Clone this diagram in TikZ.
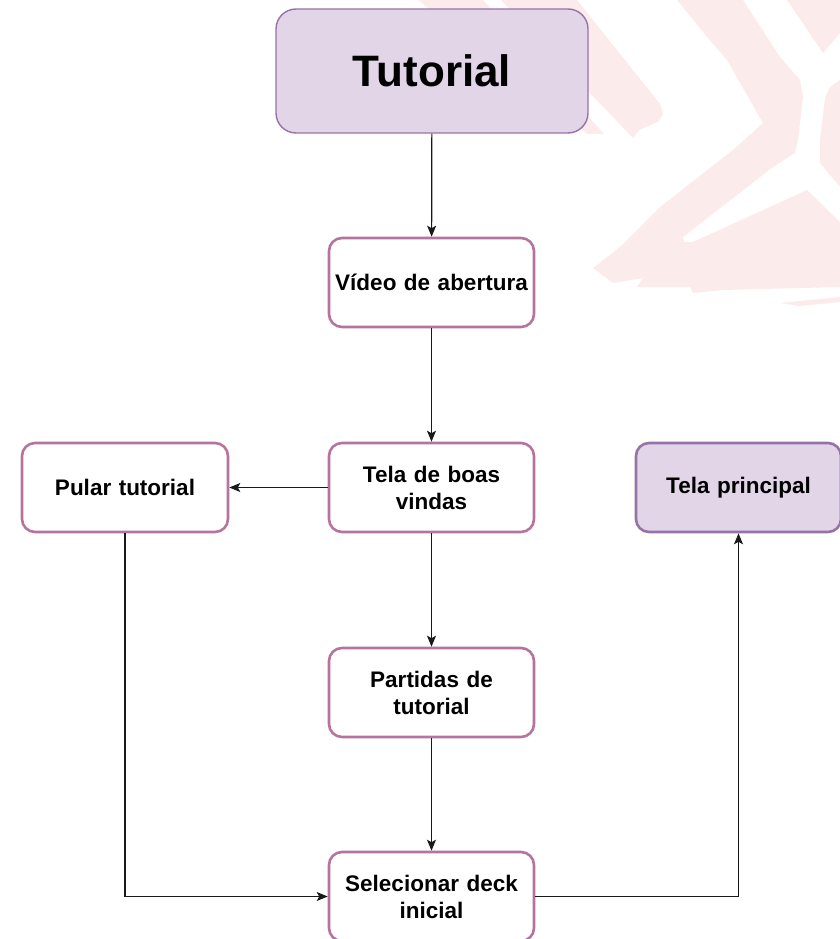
\documentclass[tikz,border=0pt]{standalone}
\usepackage{fontspec}
\setmainfont{Liberation Sans}
\usetikzlibrary{arrows.meta}

\definecolor{lilacfill}{HTML}{E1D5E7}
\definecolor{lilacline}{HTML}{9673A6}
\definecolor{mauveline}{HTML}{B5739D}
\definecolor{markpink}{RGB}{252,235,235}

\tikzset{
  stepbox/.style={draw=mauveline, line width=2.6pt, fill=white, rounded corners=13pt,
    minimum width=205pt, minimum height=89pt, inner sep=2pt, align=center,
    text width=200pt, font=\fontsize{22.5}{27}\selectfont\bfseries},
  endbox/.style={stepbox, draw=lilacline, fill=lilacfill},
  titlebox/.style={draw=lilacline, line width=1.4pt, fill=lilacfill, rounded corners=20pt,
    minimum width=312pt, minimum height=124pt, align=center,
    font=\fontsize{44}{50}\selectfont\bfseries},
  flow/.style={draw=black!90, line width=1.2pt,
    -{Stealth[length=11pt,width=9pt,inset=2.5pt]}},
}

\begin{document}
\begin{tikzpicture}[x=1pt,y=-1pt]
  \useasboundingbox (0,0) rectangle (840,939);

  % faint logo in the background
  \fill[markpink] (418,0) -- (483,0) -- (604,134) -- (588,134) -- cycle;
  \fill[markpink] (501,0) -- (577,0) -- (660,104) -- (663,114) -- (658,122)
        -- (646,127) -- (639,130) -- (633,138) -- cycle;
  \fill[markpink] (677,0) -- (743,0) -- (780,57) -- (800,80) -- (803,97)
        -- (798,140) -- (795,153) -- (773,167) -- (683,237) -- (684,242)
        -- (693,242) -- (807,190) -- (840,222) -- (840,287) -- (723,290)
        -- (693,293) -- (690,287) -- (637,287) -- (643,278) -- (613,283)
        -- (593,268) -- (620,247) -- (660,207) -- (733,150) -- (763,123)
        -- (727,60) -- (707,37) -- cycle;
  \fill[markpink] (787,0) -- (840,0) -- (840,33) -- (823,53) -- cycle;
  \fill[markpink] (840,80) -- (830,87) -- (825,98) -- (820,140) -- (820,163)
        -- (840,187) -- cycle;
  \fill[markpink] (780,303) -- (840,297) -- (840,302) -- (800,306) -- cycle;

  % boxes
  \node[titlebox] (tut) at (432,71) {Tutorial};
  \node[stepbox] (video) at (431.5,282.5) {Vídeo de abertura};
  \node[stepbox] (boas) at (431.5,487.5) {Tela de boas\\vindas};
  \node[stepbox, minimum width=206pt] (pular) at (125,487.5) {Pular tutorial};
  \node[endbox] (principal) at (738.5,487.5) {Tela principal};
  \node[stepbox] (partidas) at (431.5,692.5) {Partidas de\\tutorial};
  \node[stepbox] (selec) at (431.5,896.5) {Selecionar deck\\inicial};

  % connectors
  \draw[flow] (tut) -- (video);
  \draw[flow] (video) -- (boas);
  \draw[flow] (boas.west) -- (pular.east);
  \draw[flow] (boas) -- (partidas);
  \draw[flow] (partidas) -- (selec);
  \draw[flow] (pular.south) |- (selec.west);
  \draw[flow] (selec.east) -| (principal.south);
\end{tikzpicture}
\end{document}
